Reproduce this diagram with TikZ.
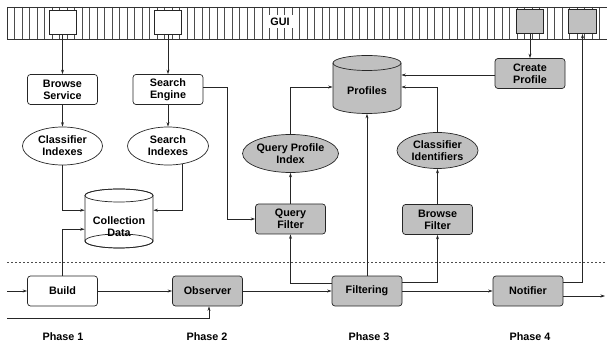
\documentclass[tikz,border=0pt]{standalone}
\usepackage{fontspec}
\setmainfont{Liberation Sans}
\usetikzlibrary{shapes.geometric,arrows.meta}
\definecolor{figgray}{RGB}{192,192,192}
\begin{document}
\begin{tikzpicture}[x=1pt,y=-1pt,
  font=\fontsize{10.8}{12}\selectfont\bfseries,
  line width=0.7pt,
  conn/.style={draw=black!85},
  arr/.style={conn,-{Stealth[length=4.5pt,width=3pt]}},
  proc/.style={draw=black!85, rounded corners=3pt, minimum width=70pt, minimum height=30pt, align=center, inner sep=0pt},
  gproc/.style={proc, fill=figgray},
  ell/.style={draw=black!85, ellipse, minimum width=81pt, minimum height=37pt, align=center, inner sep=0pt},
  gell/.style={ell, fill=figgray},
  guibox/.style={draw=black!85, minimum width=27pt, minimum height=24pt, inner sep=0pt},
  cylarea/.style={minimum width=68pt, inner sep=0pt},
  stripe/.style={draw=black!70, line width=0.6pt},
  sep/.style={draw=black!70, line width=0.7pt, dash pattern=on 2pt off 2pt}
]
\useasboundingbox (0,0) rectangle (607,347);

% GUI bar
\foreach \i in {0,...,79} \draw[stripe] ({7+7.5*\i},7) -- ({7+7.5*\i},39);
\draw[black!80, line width=0.7pt] (607,7) -- (7,7) -- (7,39) -- (607,39);
\node[fill=white, minimum height=13pt, minimum width=32pt, inner sep=0pt] (gui) at (280,22) {GUI};
\node[guibox, fill=white] (g1) at (62.5,22) {};
\node[guibox, fill=white] (g2) at (168,22) {};
\node[guibox, fill=figgray] (g3) at (530,21.5) {};
\node[guibox, fill=figgray, minimum width=28pt] (g4) at (582.5,21.5) {};

% upper-left part
\node[proc] (bs) at (62.5,89.5) {Browse\\Service};
\node[proc] (se) at (168,89.5) {Search\\Engine};
\node[ell, minimum width=80pt, minimum height=38pt] (ci) at (62.5,146) {Classifier\\Indexes};
\node[ell, minimum width=81pt, minimum height=38pt] (si) at (168,146) {Search\\Indexes};

% Collection Data cylinder
\draw[black!85, fill=white] (85,195.5) -- (85,241) arc[start angle=180, end angle=360, x radius=34pt, y radius=7pt] -- (153,195.5) arc[start angle=0, end angle=180, x radius=34pt, y radius=6.5pt] -- cycle;
\draw[black!85] (119,195.5) ellipse[x radius=34pt, y radius=6.5pt];
\draw[black!85] (119,241) ellipse[x radius=34pt, y radius=7pt];
\node[cylarea, minimum height=59.5pt] (coll) at (119,218.25) {};
\node[align=center, inner sep=0pt] (colltext) at (119,227) {Collection\\Data};

% Profiles cylinder
\draw[black!85, fill=figgray] (333,63) -- (333,106) arc[start angle=180, end angle=360, x radius=34pt, y radius=7.5pt] -- (401,63) arc[start angle=0, end angle=180, x radius=34pt, y radius=7.5pt] -- cycle;
\draw[black!85] (333,63) arc[start angle=180, end angle=360, x radius=34pt, y radius=7.5pt];
\node[cylarea, minimum height=58pt] (prof) at (367,84.5) {};
\node[inner sep=0pt] (proftext) at (367,91) {Profiles};

% right upper part
\node[gproc] (cp) at (530,73.5) {Create\\Profile};
\node[gell, minimum width=83pt, minimum height=38pt] (qpi) at (290.5,153.5) {Query Profile\\Index};
\node[gell, minimum width=81pt, minimum height=36pt] (cid) at (437.5,150.5) {Classifier\\Identifiers};
\node[gproc] (qf) at (290.5,219) {Query\\Filter};
\node[gproc] (bf) at (437.5,219.5) {Browse\\Filter};

% phase row
\node[proc] (build) at (62.5,291) {Build};
\node[gproc] (obs) at (207.5,291) {Observer};
\node[gproc] (filt) at (367,291) {Filtering};
\node[gproc] (notif) at (528,291) {Notifier};

\coordinate (in1) at (7,291);
\coordinate (in2) at (7,318);
\coordinate (out) at (605,296);

% separator
\draw[sep] (7,262) -- (607,262);

% phase labels
\node (p1) at (63,337) {Phase 1};
\node (p2) at (207,337) {Phase 2};
\node (p3) at (369,337) {Phase 3};
\node (p4) at (530,337) {Phase 4};

% connectors
\draw[arr] (g1.south) -- (bs.north);
\draw[arr] (g2.south) -- (se.north);
\draw[arr] (bs.south) -- (ci.north);
\draw[arr] (se.south) -- (si.north);
\draw[arr] (ci.south) |- ([yshift=8pt]coll.west);
\draw[arr] (si.-52) |- ([yshift=8pt]coll.east);
\draw[arr] (build.north) |- ([yshift=-11pt]coll.west);
\draw[arr] ([yshift=2.5pt]se.east) -- ++(24,0) |- (qf.west);

\draw[arr] (g3.south) -- (cp.north);
\draw[arr] ([yshift=-1.5pt]cp.west) -- ([yshift=9.5pt]prof.east);
\draw[arr] (cid.north) |- ([yshift=-2.5pt]prof.east);
\draw[arr] (qpi.north) |- ([yshift=-2.5pt]prof.west);
\draw[arr] (qf.north) -- (qpi.south);
\draw[arr] (bf.north) -- (cid.south);

\draw[arr] (in1) -- (build.west);
\draw[arr] (build.east) -- (obs.west);
\draw[arr] (obs.east) -- (filt.west);
\draw[arr] (filt.east) -- (notif.west);
\draw[arr] (in2) -| ([xshift=1.5pt]obs.south);
\draw[arr] ([yshift=8pt]filt.west) -| (qf.south);
\draw[arr] (filt.north) -- (filt.north |- prof.south);
\draw[arr] ([yshift=9pt]filt.east) -| (bf.south);
\draw[arr] ([yshift=9pt]notif.east) -| (g4.south);
\draw[arr] ([yshift=-5pt]notif.east) -- (out);
\end{tikzpicture}
\end{document}
